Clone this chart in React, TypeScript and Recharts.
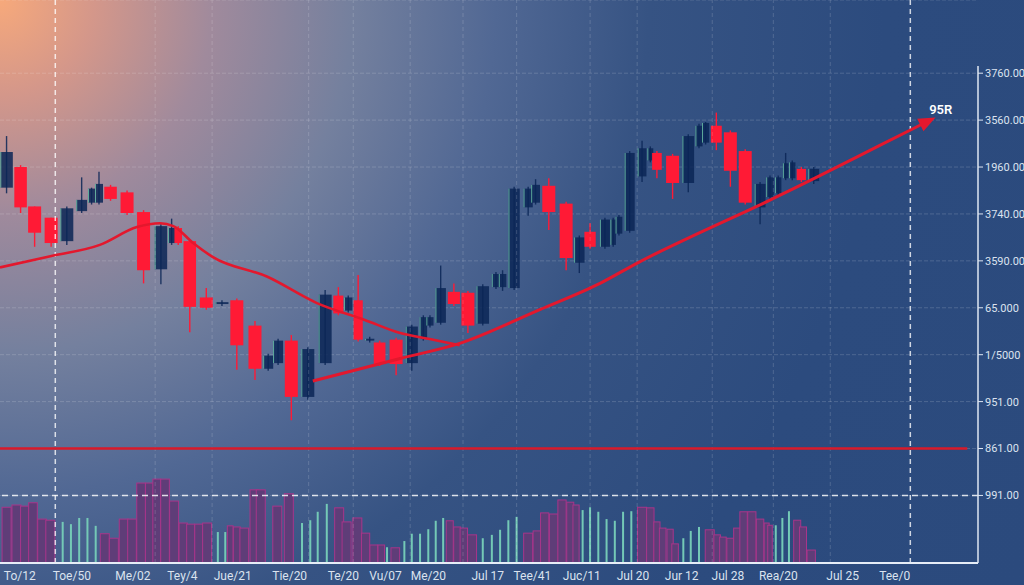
import React from 'react';
import { ComposedChart, Bar, Line, XAxis, YAxis, CartesianGrid, ReferenceLine } from 'recharts';

const W = 1024;
const H = 585;
const X_DOMAIN: [number, number] = [0, 118.5];
const P_DOMAIN: [number, number] = [428, 1028];
const PLOT_W = 978;
const PLOT_H = 563;
const PX_T = PLOT_W / (X_DOMAIN[1] - X_DOMAIN[0]);
const PX_P = PLOT_H / (P_DOMAIN[1] - P_DOMAIN[0]);

// candles
const candleT = [0.8, 2.5, 4.2, 6.2, 8.1, 9.9, 11.1, 12.0, 13.4, 15.4, 17.4, 19.5, 20.8, 21.6, 23.0, 25.0, 26.9, 28.7, 30.9, 32.5, 33.7, 35.3, 37.3, 39.4, 41.0, 42.2, 43.4, 44.8, 46.0, 48.0, 49.9, 51.3, 52.1, 53.4, 55.0, 56.7, 58.5, 60.1, 60.9, 62.3, 64.0, 64.9, 66.5, 68.6, 70.2, 71.5, 73.3, 74.3, 75.0, 76.3, 77.8, 78.8, 79.6, 81.5, 83.4, 84.7, 85.5, 86.8, 88.5, 90.3, 92.1, 93.3, 94.3, 95.2, 96.0, 97.1, 98.6];
const opens = [828, 850, 808, 796, 771, 803, 812, 812, 829, 823, 802, 741, 769, 785, 771, 711, 704, 708, 681, 635, 641, 665, 605, 641, 713, 697, 708, 665, 663, 666, 641, 667, 681, 684, 717, 716, 683, 722, 722, 721, 807, 812, 830, 811, 748, 781, 765, 767, 779, 782, 840, 857, 865, 862, 833, 872, 876, 894, 887, 867, 807, 818, 822, 838, 838, 848, 835];
const highs = [883, 852, 808, 796, 808, 839, 828, 845, 831, 825, 804, 789, 795, 787, 773, 721, 708, 710, 686, 651, 667, 671, 658, 719, 722, 713, 735, 669, 665, 668, 682, 692, 692, 745, 726, 718, 725, 738, 740, 829, 829, 837, 838, 813, 777, 790, 796, 796, 799, 867, 878, 872, 867, 864, 885, 896, 898, 908, 889, 869, 834, 841, 841, 865, 857, 850, 850];
const lows = [822, 801, 765, 765, 767, 801, 810, 810, 814, 799, 726, 725, 767, 767, 674, 698, 702, 634, 623, 633, 639, 580, 602, 639, 692, 695, 664, 663, 638, 628, 633, 665, 679, 682, 702, 673, 681, 720, 718, 719, 798, 810, 783, 740, 737, 763, 763, 765, 777, 780, 834, 855, 838, 816, 823, 870, 874, 868, 829, 810, 789, 816, 820, 836, 836, 834, 832];
const closes = [866, 807, 780, 769, 806, 815, 827, 832, 816, 801, 740, 787, 785, 769, 701, 700, 706, 660, 635, 649, 665, 605, 656, 714, 694, 711, 666, 667, 640, 640, 680, 690, 690, 721, 704, 681, 723, 736, 736, 827, 827, 831, 802, 753, 775, 765, 794, 794, 797, 865, 870, 870, 847, 833, 883, 894, 897, 876, 846, 812, 832, 839, 839, 854, 855, 836, 848];

// volume
const volT = [0.8, 2.0, 3.0, 4.0, 5.1, 6.1, 7.6, 8.6, 9.6, 10.6, 11.6, 12.7, 13.8, 15.0, 16.0, 17.1, 18.1, 19.0, 20.0, 21.1, 22.2, 23.1, 24.1, 25.1, 26.4, 27.3, 27.9, 28.7, 29.6, 30.8, 31.6, 33.6, 35.0, 36.6, 37.6, 38.5, 39.6, 41.1, 42.0, 43.3, 44.3, 45.3, 46.2, 46.9, 47.9, 49.0, 49.9, 50.9, 51.9, 52.8, 53.7, 54.5, 55.4, 56.2, 57.2, 58.5, 59.6, 60.6, 61.6, 62.6, 64.0, 65.1, 66.0, 67.1, 68.1, 69.1, 69.8, 70.6, 71.5, 72.5, 73.5, 74.5, 75.5, 76.5, 77.8, 78.8, 79.6, 80.3, 81.2, 81.8, 82.8, 83.7, 84.7, 86.0, 86.9, 87.6, 88.5, 89.3, 90.1, 91.1, 92.1, 92.9, 93.3, 94.0, 94.8, 95.6, 96.6, 97.3, 98.3];
const volumes = [99, 103, 101, 107, 78, 76, 73, 69, 80, 80, 66, 52, 44, 78, 78, 142, 142, 149, 149, 110, 71, 69, 69, 71, 55, 55, 66, 64, 62, 130, 130, 101, 123, 71, 76, 91, 105, 98, 73, 80, 53, 32, 32, 28, 27, 39, 52, 52, 60, 75, 80, 75, 64, 62, 50, 44, 50, 59, 76, 82, 53, 57, 89, 87, 112, 108, 103, 94, 99, 91, 78, 75, 91, 92, 99, 98, 73, 62, 60, 34, 44, 57, 64, 59, 50, 46, 44, 62, 91, 91, 78, 71, 67, 67, 80, 92, 76, 64, 23];
const volUp = [0, 0, 0, 0, 0, 0, 1, 1, 1, 1, 1, 0, 0, 0, 0, 0, 0, 0, 0, 0, 0, 0, 0, 0, 1, 1, 0, 0, 0, 0, 0, 0, 0, 1, 1, 1, 1, 0, 0, 0, 0, 0, 0, 1, 0, 1, 1, 1, 1, 1, 1, 0, 0, 0, 0, 1, 1, 1, 1, 1, 0, 0, 0, 0, 0, 0, 0, 1, 1, 1, 1, 1, 1, 1, 0, 0, 0, 0, 0, 0, 1, 1, 1, 0, 0, 0, 0, 0, 0, 0, 0, 0, 0, 1, 1, 1, 0, 0, 0];

// moving average curve
const maT = [0, 6.1, 12.1, 16.6, 19.4, 21.0, 23.4, 25.8, 32.4, 38.4, 44.2, 48.5, 52.5, 55.7];
const maP = [743, 755, 767, 786, 790, 787, 769, 754, 733, 705, 687, 673, 666, 660];

// trend arrow
const trendT = [37.9, 48.5, 55.7, 65.4, 72.7, 77.5, 84.8, 91.7, 99.4, 106.6, 112.7];
const trendP = [622, 646, 662, 698, 726, 749, 780, 808, 841, 873, 900];

// axes
const xTicks = [2.4, 8.7, 16.1, 22.1, 28.2, 35.1, 41.6, 46.7, 51.9, 59.1, 64.5, 70.5, 76.7, 82.6, 88.2, 94.3, 102.1, 108.4];
const xLabels = ['To/12', 'Toe/50', 'Me/02', 'Tey/4', 'Jue/21', 'Tie/20', 'Te/20', 'Vu/07', 'Me/20', 'Jul 17', 'Tee/41', 'Juc/11', 'Jul 20', 'Jur 12', 'Jul 28', 'Rea/20', 'Jul 25', 'Tee/0'];
const yTicks = [950, 900, 850, 800, 750, 700, 650, 600, 550, 500];
const yLabels = ['3760.00', '3560.00', '1960.00', '3740.00', '3590.00', '65.000', '1/5000', '951.00', '861.00', '991.00'];
const gridT = [18.8, 25.7, 37.4, 42.8, 49.7, 56.1, 62.6, 71.5, 77.2, 86.3, 93.7, 100.6];
const markT = [6.7, 110.3];

const candleRows = candleT.map((t, i) => ({ t, open: opens[i], high: highs[i], low: lows[i], close: closes[i] }));
const volRows = volT.map((t, i) => ({ t, vol: volumes[i], up: volUp[i] === 1 }));
const rows = [...candleRows, ...volRows].sort((a, b) => a.t - b.t);
const maData = maT.map((t, i) => ({ t, p: maP[i] }));
const trendData = trendT.map((t, i) => ({ t, p: trendP[i] }));

const RED = '#ff1a35';
const NAVY = '#0b2656';
const LINE_RED = '#e3182d';
const GRID = 'rgba(255,255,255,0.16)';
const TEXT = '#dbe3ef';
const FONT = 'Roboto, Arial, sans-serif';

function slotPx(ts: number[], t: number) {
  const i = ts.indexOf(t);
  const prev = i > 0 ? ts[i - 1] : null;
  const next = i >= 0 && i < ts.length - 1 ? ts[i + 1] : null;
  let span = 1;
  if (prev != null && next != null) span = (next - prev) / 2;
  else if (prev != null) span = t - prev;
  else if (next != null) span = next - t;
  return span * PX_T;
}

const Candle = (props: any) => {
  const { x, y, width, height, payload } = props;
  if (!payload || payload.high == null || !isFinite(y) || !isFinite(height)) return null;
  const cx = x + width / 2;
  const top = Math.min(y, y + height);
  const bot = Math.max(y, y + height);
  const span = payload.high - payload.low || 1;
  const toY = (v: number) => top + ((payload.high - v) / span) * (bot - top);
  const up = payload.close >= payload.open;
  const bw = Math.max(3, Math.min(13, slotPx(candleT, payload.t) - 1.5));
  const yO = toY(payload.open);
  const yC = toY(payload.close);
  const bTop = Math.min(yO, yC);
  const bH = Math.max(1.5, Math.abs(yO - yC));
  const color = up ? NAVY : RED;
  return (
    <g>
      <line x1={cx} x2={cx} y1={top} y2={bot} stroke={color} strokeWidth={1.4} strokeOpacity={up ? 0.85 : 1} />
      <rect x={cx - bw / 2} y={bTop} width={bw} height={bH} fill={color} fillOpacity={up ? 0.85 : 1} />
      {up && (
        <line x1={cx - bw / 2 + 0.5} x2={cx - bw / 2 + 0.5} y1={bTop} y2={bTop + bH} stroke="#7fe0b8" strokeOpacity={0.7} strokeWidth={1} />
      )}
    </g>
  );
};

const VolumeBar = (props: any) => {
  const { x, y, width, height, payload } = props;
  if (!payload || payload.vol == null || !isFinite(y) || !isFinite(height)) return null;
  const cx = x + width / 2;
  const top = Math.min(y, y + height);
  const h = Math.abs(height);
  if (payload.up) return <rect x={cx - 1} y={top} width={2} height={h} fill="#74c9b6" />;
  const w = Math.max(3, Math.min(9, slotPx(volT, payload.t)));
  return <rect x={cx - w / 2} y={top} width={w} height={h} fill="#5f3d78" stroke="#a8358a" strokeWidth={1} />;
};

const trendDot = (props: any) => {
  const { cx, cy, index } = props;
  const last = trendT.length - 1;
  if (index !== last || cx == null) return <g key={`td-${index}`} />;
  const dx = (trendT[last] - trendT[last - 1]) * PX_T;
  const dy = -(trendP[last] - trendP[last - 1]) * PX_P;
  const len = Math.hypot(dx, dy);
  const ux = dx / len;
  const uy = dy / len;
  const tipX = cx + ux * 6;
  const tipY = cy + uy * 6;
  const bx = cx - ux * 11;
  const by = cy - uy * 11;
  const pts = `${tipX},${tipY} ${bx - uy * 7},${by + ux * 7} ${bx + uy * 7},${by - ux * 7}`;
  return (
    <g key="arrow">
      <polygon points={pts} fill={LINE_RED} />
      <text x={cx - 1} y={cy - 6} fill="#ffffff" fontSize={13} fontWeight={600} fontFamily={FONT}>
        95R
      </text>
    </g>
  );
};

export default function App() {
  return (
    <div
      style={{
        position: 'absolute',
        left: 0,
        top: 0,
        width: W,
        height: H,
        background:
          'radial-gradient(circle at 0% 0%, #f7a97b 0%, #d4978a 8%, #a08a9c 18%, #74809e 30%, #516894 42%, #365383 55%, #2c4b7e 75%, #2b4a7d 100%)',
      }}
    >
      <ComposedChart width={W} height={H} data={rows} margin={{ top: 0, right: 0, left: 0, bottom: 0 }}>
        <XAxis
          xAxisId="p"
          dataKey="t"
          type="number"
          domain={X_DOMAIN}
          allowDataOverflow
          ticks={xTicks}
          interval={0}
          tickFormatter={(v: number) => xLabels[xTicks.indexOf(v)] ?? ''}
          tick={{ fill: TEXT, fontSize: 12, fontFamily: FONT }}
          tickLine={false}
          axisLine={{ stroke: '#e6edf7', strokeWidth: 2 }}
          height={22}
        />
        <XAxis xAxisId="v" dataKey="t" type="number" domain={X_DOMAIN} allowDataOverflow hide />
        <YAxis
          yAxisId="p"
          orientation="right"
          type="number"
          domain={P_DOMAIN}
          allowDataOverflow
          ticks={yTicks}
          interval={0}
          tickFormatter={(v: number) => yLabels[yTicks.indexOf(v)] ?? ''}
          tick={{ fill: TEXT, fontSize: 11, fontFamily: FONT }}
          tickLine={{ stroke: '#dfe7f3' }}
          tickSize={5}
          tickMargin={2}
          axisLine={false}
          width={46}
        />
        <YAxis yAxisId="v" type="number" domain={[0, 1000]} allowDataOverflow hide />

        <CartesianGrid xAxisId="p" yAxisId="p" vertical={false} stroke={GRID} strokeDasharray="4 2" />
        {gridT.map((t) => (
          <ReferenceLine key={`g-${t}`} xAxisId="p" yAxisId="p" x={t} stroke={GRID} strokeDasharray="4 3" />
        ))}

        <Bar xAxisId="v" yAxisId="v" dataKey="vol" barSize={2} shape={VolumeBar} isAnimationActive={false} />

        {markT.map((t) => (
          <ReferenceLine key={`m-${t}`} xAxisId="p" yAxisId="p" x={t} stroke="rgba(255,255,255,0.78)" strokeWidth={1.5} strokeDasharray="5 4" />
        ))}
        <ReferenceLine xAxisId="p" yAxisId="p" y={500} stroke="rgba(255,255,255,0.82)" strokeWidth={1.5} strokeDasharray="6 4" />
        <ReferenceLine
          xAxisId="p"
          yAxisId="p"
          segment={[{ x: 0, y: 550 }, { x: 117.2, y: 550 }]}
          stroke="#d91a2a"
          strokeWidth={2.5}
        />
        <ReferenceLine
          xAxisId="p"
          yAxisId="p"
          segment={[{ x: X_DOMAIN[1], y: 957.7 }, { x: X_DOMAIN[1], y: P_DOMAIN[0] }]}
          stroke="#dfe7f3"
          strokeWidth={1.5}
        />

        <Bar
          xAxisId="p"
          yAxisId="p"
          dataKey={(d: any) => (d.high != null ? [d.low, d.high] : null)}
          barSize={2}
          shape={Candle}
          isAnimationActive={false}
        />

        <Line
          xAxisId="p"
          yAxisId="p"
          data={maData}
          dataKey="p"
          type="monotone"
          stroke={LINE_RED}
          strokeWidth={2.6}
          dot={false}
          activeDot={false}
          isAnimationActive={false}
        />
        <Line
          xAxisId="p"
          yAxisId="p"
          data={trendData}
          dataKey="p"
          type="monotone"
          stroke={LINE_RED}
          strokeWidth={3}
          dot={trendDot}
          activeDot={false}
          isAnimationActive={false}
        />
      </ComposedChart>
    </div>
  );
}
